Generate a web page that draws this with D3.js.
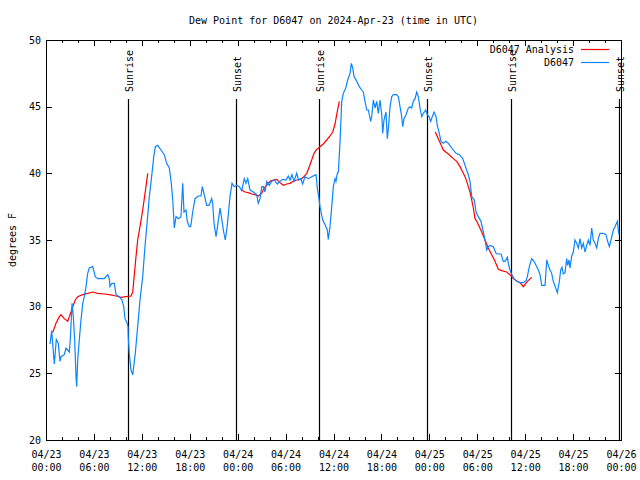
<!DOCTYPE html>
<html>
<head>
<meta charset="utf-8">
<script src="https://cdn.jsdelivr.net/npm/d3@7"></script>
<style>
  html, body { margin: 0; padding: 0; background: #fff; }
  text { font-family: "DejaVu Sans Mono", monospace; font-size: 10px; fill: #000; }
</style>
</head>
<body>
<svg id="chart" width="640" height="480"></svg>
<script>
// ---- DATA (hours since 2024-04-23 00:00 UTC, degrees F) ----
const stationHours = [0.50,0.71,1.04,1.29,1.54,1.75,1.88,2.29,2.50,2.92,3.04,3.26,3.42,3.59,3.76,3.84,3.97,4.17,4.38,4.60,4.80,5.01,5.22,5.42,5.85,6.17,6.47,7.30,7.73,7.93,8.01,8.23,8.55,8.77,9.18,9.52,9.73,9.89,10.14,10.27,10.31,10.43,10.64,10.86,10.98,11.18,11.48,11.77,12.11,12.36,12.65,12.94,13.27,13.49,13.69,13.99,14.40,14.81,15.11,15.44,15.69,15.87,16.07,16.28,16.62,16.90,17.12,17.28,17.53,17.69,17.94,18.12,18.37,18.66,19.07,19.41,19.57,19.78,20.12,20.41,20.75,20.87,21.04,21.29,21.50,21.79,22.00,22.20,22.45,22.70,22.88,23.04,23.29,23.58,23.88,24.21,24.51,24.83,25.04,25.26,25.55,25.96,26.38,26.58,26.80,27.01,27.21,27.42,27.64,27.96,28.26,28.59,28.96,29.30,29.64,30.05,30.34,30.55,30.80,31.05,31.39,31.64,31.89,32.14,32.43,32.85,33.27,33.81,33.97,34.15,34.31,34.65,34.97,35.22,35.35,35.56,35.78,35.98,36.19,36.31,36.48,36.61,36.82,37.03,37.23,37.53,37.78,38.07,38.23,38.41,38.57,38.91,39.23,39.53,39.73,39.95,40.16,40.36,40.66,40.78,40.99,41.20,41.41,41.61,41.82,42.04,42.16,42.32,42.57,42.74,42.91,43.08,43.29,43.49,43.91,44.12,44.33,44.54,44.67,44.83,45.08,45.37,45.58,45.79,45.99,46.21,46.42,46.62,46.83,47.05,47.25,47.55,47.75,47.96,48.17,48.37,48.59,48.84,49.00,49.25,49.46,49.75,50.09,50.38,50.68,51.00,51.34,51.75,52.18,52.47,52.88,53.09,53.31,53.63,53.85,54.13,54.47,54.76,54.97,55.18,55.38,55.60,56.01,56.35,56.56,56.98,57.26,57.48,57.77,57.89,58.10,58.32,58.61,58.94,59.36,59.77,60.11,60.27,60.52,60.82,61.11,61.45,61.65,61.86,62.07,62.49,62.70,62.90,63.11,63.32,63.52,63.74,64.03,64.28,64.45,64.61,64.78,64.99,65.20,65.33,65.49,65.62,65.83,66.03,66.24,66.45,66.66,66.87,67.08,67.28,67.49,67.71,67.91,68.12,68.33,68.53,68.75,68.96,69.16,69.37,69.79,70.12,70.28,70.54,70.71,71.04,71.25,71.54,71.66,71.75];
const stationValues = [27.2,28.2,25.7,27.55,27.25,25.9,26.25,26.4,26.9,26.6,27.5,30.25,29.25,27.5,24.75,24.0,26.0,27.5,29.0,30.25,30.75,31.5,32.5,32.9,33.0,32.25,32.1,32.1,32.4,32.1,31.5,31.75,31.75,30.9,30.75,30.5,30.0,29.1,28.8,28.5,27.6,26.5,25.25,24.9,25.5,26.5,28.5,30.5,32.25,34.25,36.25,38.25,40.0,41.25,42.0,42.1,41.75,41.4,40.75,40.4,39.25,38.0,35.9,36.75,36.6,36.75,39.25,37.1,37.25,36.4,36.0,36.0,37.1,38.1,38.3,38.3,39.0,38.5,37.6,37.6,38.1,37.75,36.25,35.25,36.1,37.4,36.6,35.75,35.0,36.1,37.25,38.25,39.25,39.0,39.1,39.0,38.7,39.6,39.25,39.6,38.75,38.6,38.4,37.75,38.1,39.0,39.0,38.6,39.4,39.1,39.4,39.5,39.2,39.4,39.55,39.5,39.8,39.5,39.9,39.4,40.0,39.5,39.6,39.2,39.75,39.6,39.75,39.9,38.9,38.25,37.5,36.5,36.1,35.75,35.05,36.0,37.5,39.0,39.6,39.4,40.0,40.1,42.4,45.4,46.0,46.4,47.0,47.5,48.25,47.9,47.25,46.9,46.5,46.25,46.1,45.4,44.75,44.75,43.9,44.25,45.5,44.9,45.4,44.5,45.5,44.4,43.0,44.0,44.6,42.6,43.6,45.0,45.75,45.9,45.9,45.75,45.0,44.25,43.5,44.1,44.4,44.9,45.0,44.9,45.4,45.6,46.1,45.75,44.9,44.25,44.5,44.75,44.4,44.25,43.9,44.25,44.6,44.25,43.6,43.0,42.4,42.25,42.4,42.25,42.0,41.75,41.5,41.4,41.1,40.6,39.9,39.4,38.25,38.0,37.1,36.75,36.4,35.6,35.0,34.25,34.5,34.6,34.5,34.0,33.95,33.95,33.4,33.4,33.7,33.25,32.75,32.4,32.1,31.9,31.8,31.8,31.95,32.25,33.0,33.6,33.4,33.0,32.75,32.4,31.6,31.6,33.5,33.1,32.75,32.5,31.9,31.55,31.05,31.9,32.75,32.95,32.45,32.55,33.6,33.1,33.5,32.9,33.8,34.1,35.0,34.75,34.4,35.1,34.4,34.75,34.1,34.6,35.0,34.6,35.9,35.0,34.75,34.4,35.1,35.5,35.5,35.4,35.0,34.5,34.9,35.75,36.0,36.4,35.75,35.4];

// Analysis series: null marks a gap
const analysisHours = [0.84,1.25,1.67,1.88,2.29,2.72,2.92,3.13,3.34,3.67,3.97,4.60,5.22,5.85,6.47,7.30,7.93,8.77,9.39,10.02,10.64,10.86,11.06,11.27,11.48,11.77,12.11,12.40,12.74,
  18.0,
  24.51,24.92,25.33,25.76,26.17,26.58,27.01,27.30,27.64,28.05,28.46,28.89,29.30,29.72,30.14,30.55,30.97,31.39,31.89,32.22,32.65,32.97,33.27,33.56,33.90,34.22,34.72,35.15,35.56,35.90,36.19,36.40,36.73,
  42.0,
  48.75,49.12,49.42,49.75,50.38,51.00,51.43,51.84,52.18,52.47,52.76,53.09,53.31,53.51,53.72,53.94,54.26,54.56,54.97,55.38,55.81,56.22,56.64,57.06,57.68,58.10,58.51,59.01,59.44,59.77,60.27,60.82];
const analysisValues = [28.05,28.75,29.25,29.4,29.1,28.9,29.25,29.6,30.0,30.5,30.75,30.9,31.0,31.1,31.0,30.95,30.9,30.8,30.7,30.75,30.8,31.1,32.4,33.75,35.0,36.0,37.25,38.5,40.0,
  null,
  38.75,38.6,38.55,38.45,38.4,38.3,38.5,38.9,39.1,39.4,39.5,39.55,39.3,39.1,39.2,39.25,39.4,39.5,39.55,39.7,40.0,40.5,41.0,41.5,41.8,41.95,42.2,42.5,42.8,43.1,43.7,44.4,45.4,
  null,
  43.1,42.6,42.2,41.75,41.45,41.1,40.9,40.5,40.1,39.75,39.25,38.6,38.0,37.4,36.6,36.4,36.0,35.6,35.0,34.4,33.9,33.4,32.8,32.7,32.6,32.4,32.1,31.9,31.75,31.5,31.9,32.2];

const sunLabels = ["Sunrise","Sunset","Sunrise","Sunset","Sunrise","Sunset"];
const sunHours  = [10.31, 23.83, 34.22, 47.75, 58.27, 71.79];

const yTicks = [20,25,30,35,40,45,50];
const seriesNames = ["D6047 Analysis", "D6047"];
const seriesColors = ["#ff0000", "#0a84ff"];
const titleText = "Dew Point for D6047 on 2024-Apr-23 (time in UTC)";
const yLabelText = "degrees F";

// ---- CHART ----
const base = Date.UTC(2024, 3, 23, 0, 0);
const toDate = h => new Date(base + h * 3600e3);
const margin = {left: 46, right: 621, top: 40, bottom: 440};

const svg = d3.select("#chart");
const x = d3.scaleUtc().domain([toDate(0), toDate(72)]).range([margin.left, margin.right]);
const y = d3.scaleLinear().domain([20, 50]).range([margin.bottom, margin.top]);

const station = stationHours.map((h, i) => ({t: toDate(h), v: stationValues[i]}));
const analysis = analysisHours.map((h, i) => ({t: toDate(h), v: analysisValues[i]}));

// Title & y label
svg.append("text").attr("x", (margin.left + margin.right) / 2).attr("y", 24)
  .attr("text-anchor", "middle").text(titleText);
svg.append("text").attr("transform", `translate(12,${(margin.top + margin.bottom) / 2}) rotate(-90)`)
  .attr("text-anchor", "middle").attr("dy", "0.35em").text(yLabelText);

// Axes
const majorTicks = d3.range(0, 73, 6).map(toDate);
const minorTicks = d3.range(0, 73, 2).filter(h => h % 6 !== 0).map(toDate);

function styleAxis(g) {
  g.select(".domain").remove();
  g.selectAll("line").attr("stroke", "#000").attr("shape-rendering", "crispEdges");
  g.selectAll("text").style("font-family", '"DejaVu Sans Mono", monospace').style("font-size", "10px");
}

// bottom major with labels
const gx = svg.append("g").attr("transform", `translate(0,${margin.bottom})`)
  .call(d3.axisBottom(x).tickValues(majorTicks).tickSize(-6).tickSizeOuter(0).tickFormat(""))
  .call(styleAxis);
gx.selectAll(".tick text").each(function(d) {
  const t = d3.select(this).attr("y", null).attr("dy", null).text(null);
  t.append("tspan").attr("x", 0).attr("y", 18).text(d3.utcFormat("%m/%d")(d));
  t.append("tspan").attr("x", 0).attr("y", 31).text(d3.utcFormat("%H:%M")(d));
});
svg.append("g").attr("transform", `translate(0,${margin.bottom})`)
  .call(d3.axisBottom(x).tickValues(minorTicks).tickSize(-3).tickSizeOuter(0).tickFormat(""))
  .call(styleAxis);
// top mirror
svg.append("g").attr("transform", `translate(0,${margin.top})`)
  .call(d3.axisTop(x).tickValues(majorTicks).tickSize(-6).tickSizeOuter(0).tickFormat(""))
  .call(styleAxis);
svg.append("g").attr("transform", `translate(0,${margin.top})`)
  .call(d3.axisTop(x).tickValues(minorTicks).tickSize(-3).tickSizeOuter(0).tickFormat(""))
  .call(styleAxis);
// left & right
svg.append("g").attr("transform", `translate(${margin.left},0)`)
  .call(d3.axisLeft(y).tickValues(yTicks).tickSize(-6).tickSizeOuter(0).tickPadding(5).tickFormat(d3.format("d")))
  .call(styleAxis);
svg.append("g").attr("transform", `translate(${margin.right},0)`)
  .call(d3.axisRight(y).tickValues(yTicks).tickSize(-6).tickSizeOuter(0).tickFormat(""))
  .call(styleAxis);

// Sunrise / sunset lines
const sun = svg.append("g");
sunHours.forEach((h, i) => {
  const sx = Math.round(x(toDate(h))) + 0.5;
  sun.append("line").attr("x1", sx).attr("x2", sx).attr("y1", 99).attr("y2", margin.bottom)
    .attr("stroke", "#000").attr("stroke-width", 1.2);
  sun.append("text").attr("transform", `translate(${sx + 1},92) rotate(-90)`)
    .attr("text-anchor", "start").attr("dy", "0.35em").text(sunLabels[i]);
});

// Lines
const line = d3.line().defined(d => d.v !== null).x(d => x(d.t)).y(d => y(d.v));
svg.append("path").datum(analysis).attr("d", line)
  .attr("fill", "none").attr("stroke", seriesColors[0]).attr("stroke-width", 1.2);
svg.append("path").datum(station).attr("d", line)
  .attr("fill", "none").attr("stroke", seriesColors[1]).attr("stroke-width", 1.2);

// Border
svg.append("rect").attr("x", margin.left + 0.5).attr("y", margin.top + 0.5)
  .attr("width", margin.right - margin.left).attr("height", margin.bottom - margin.top)
  .attr("fill", "none").attr("stroke", "#000").attr("shape-rendering", "crispEdges");

// Legend
const legend = svg.append("g");
seriesNames.forEach((name, i) => {
  const ly = 49.5 + i * 13;
  legend.append("text").attr("x", 574).attr("y", ly).attr("dy", "0.35em")
    .attr("text-anchor", "end").text(name);
  legend.append("line").attr("x1", 581).attr("x2", 609).attr("y1", ly).attr("y2", ly)
    .attr("stroke", seriesColors[i]).attr("stroke-width", 1.2);
});
</script>
</body>
</html>
